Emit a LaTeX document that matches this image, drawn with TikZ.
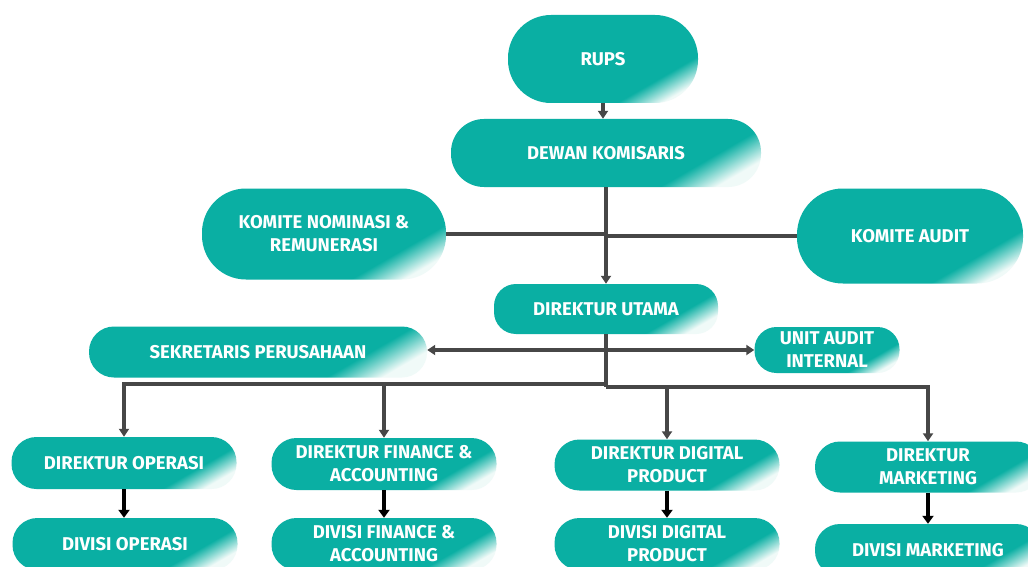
\documentclass[tikz,border=0pt]{standalone}
\usepackage{fontspec}
\setmainfont{Fira Sans}
\usetikzlibrary{arrows.meta}
\definecolor{tealc}{HTML}{0AAFA3}
\definecolor{fadec}{HTML}{F0FAF8}
\definecolor{linec}{HTML}{474747}
\pgfdeclarehorizontalshading{tealfade}{100bp}{color(0bp)=(tealc); color(25bp)=(tealc); color(68bp)=(tealc); color(77bp)=(fadec); color(100bp)=(fadec)}
\tikzset{
  box/.style={rectangle, shading=tealfade, shading angle=-60, text=white,
    font=\bfseries\fontsize{18.5}{23}\selectfont, align=center, inner sep=0pt},
  conn/.style={draw=linec, line width=3.2pt},
  arr/.style={conn, -{Triangle[length=8pt,width=10pt]}},
  barr/.style={draw=black, line width=4pt, -{Triangle[length=8pt,width=11pt]}},
}
\begin{document}
\begin{tikzpicture}[x=1pt,y=-1pt]
\useasboundingbox (0,0) rectangle (1028,567);
\fill[white] (0,0) rectangle (1028,567);
% nodes
\node[box, minimum width=190pt, minimum height=88pt, rounded corners=43pt] (rups) at (603,59) {RUPS};
\node[box, minimum width=310pt, minimum height=68pt, rounded corners=33pt] (dewan) at (606,153) {DEWAN KOMISARIS};
\node[box, minimum width=244pt, minimum height=91pt, rounded corners=44pt] (kn) at (324,234) {KOMITE NOMINASI \&\\REMUNERASI};
\node[box, minimum width=226pt, minimum height=95pt, rounded corners=46pt] (ka) at (910,236) {KOMITE AUDIT};
\node[box, minimum width=224pt, minimum height=50pt, rounded corners=22pt] (du) at (606,309) {DIREKTUR UTAMA};
\node[box, minimum width=338pt, minimum height=51pt, rounded corners=25pt] (sek) at (258,352) {SEKRETARIS PERUSAHAAN};
\node[box, minimum width=145pt, minimum height=46pt, rounded corners=22pt] (uai) at (827,350) {UNIT AUDIT\\INTERNAL};
\node[box, minimum width=225pt, minimum height=52pt, rounded corners=25pt] (do) at (124,463) {DIREKTUR OPERASI};
\node[box, minimum width=225pt, minimum height=52pt, rounded corners=25pt] (dvo) at (125,544) {DIVISI OPERASI};
\node[box, minimum width=225pt, minimum height=52pt, rounded corners=25pt] (df) at (384,464) {DIREKTUR FINANCE \&\\ACCOUNTING};
\node[box, minimum width=225pt, minimum height=52pt, rounded corners=25pt] (dvf) at (384,544) {DIVISI FINANCE \&\\ACCOUNTING};
\node[box, minimum width=225pt, minimum height=51pt, rounded corners=25pt] (dd) at (667,465) {DIREKTUR DIGITAL\\PRODUCT};
\node[box, minimum width=225pt, minimum height=52pt, rounded corners=25pt] (dvd) at (667,544) {DIVISI DIGITAL\\PRODUCT};
\node[box, minimum width=226pt, minimum height=51pt, rounded corners=25pt] (dm) at (928,467) {DIREKTUR\\MARKETING};
\node[box, minimum width=226pt, minimum height=52pt, rounded corners=25pt] (dvm) at (928,550) {DIVISI MARKETING};
% connectors
\draw[arr] (rups.south) -- (rups.south |- dewan.north);
\draw[arr] (dewan.south) -- (du.north);
\draw[conn] (kn.east) -- (kn.east -| du.north);
\draw[conn] (ka.west) -- (ka.west -| du.north);
\coordinate (j1) at (606,350);
\coordinate (jl) at (606,384);
\coordinate (jr) at (606,387);
\draw[arr] (j1) -- (j1 -| sek.east);
\draw[arr] (j1) -- (j1 -| uai.west);
\draw[conn] (du.south) -- (jr);
\draw[arr] (jl) -| (do.north);
\draw[arr] (jl) -| (df.north);
\draw[arr] (jr) -| (dd.north);
\draw[arr] (jr) -| (dm.north);
\draw[barr] (do.south) -- (dvo.north -| do.south);
\draw[barr] (df.south) -- (dvf.north);
\draw[barr] (dd.south) -- (dvd.north);
\draw[barr] (dm.south) -- (dvm.north);
\end{tikzpicture}
\end{document}
